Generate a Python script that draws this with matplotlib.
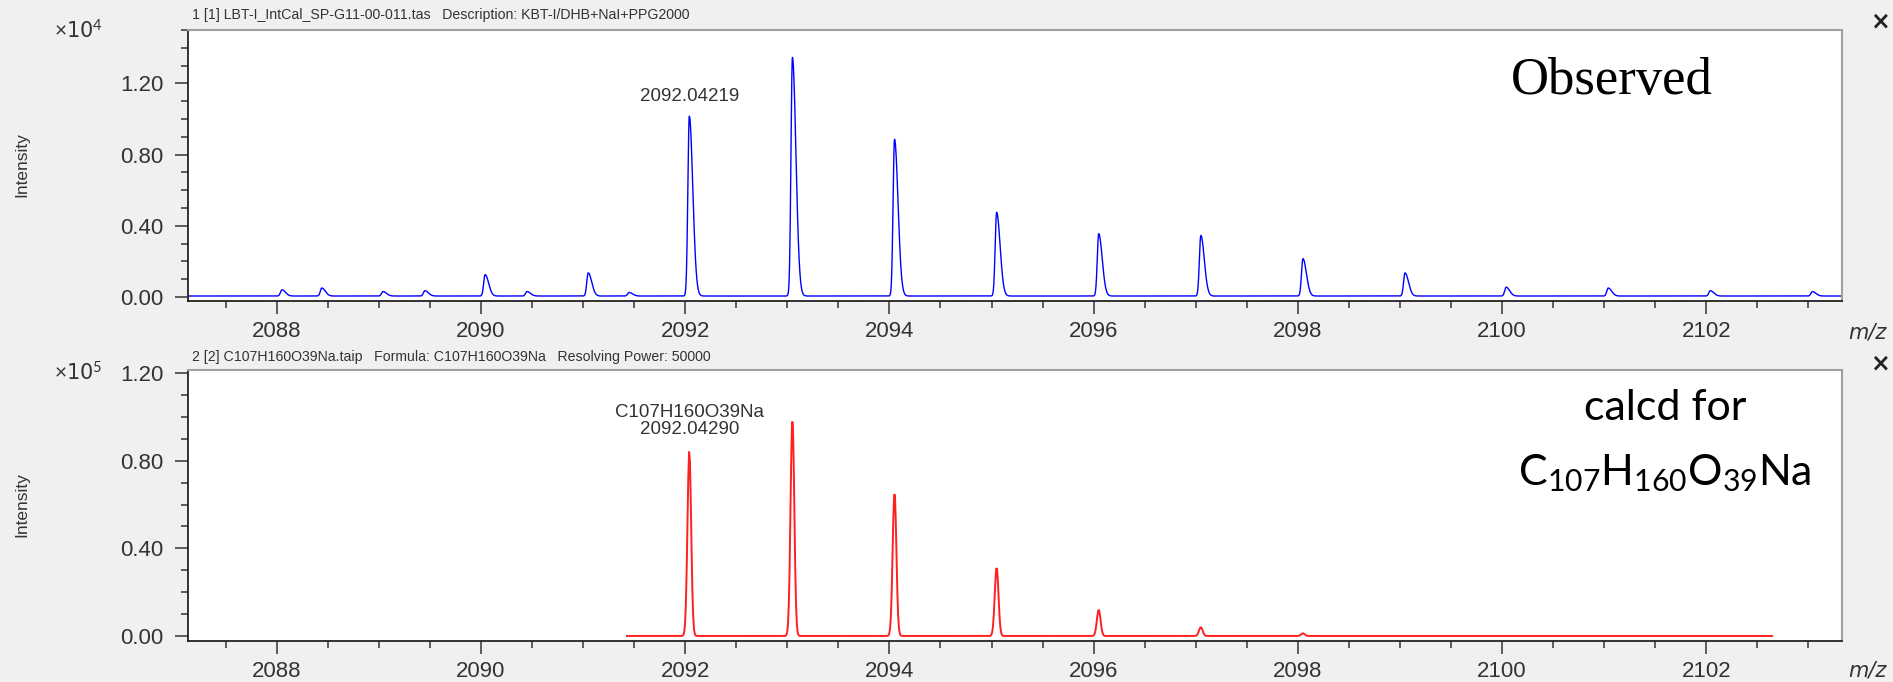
import matplotlib
matplotlib.use('Agg')
import matplotlib.pyplot as plt
from matplotlib.ticker import MultipleLocator, FormatStrFormatter
import numpy as np

# observed spectrum: peak centres (m/z) and heights (x10^4)
obs_mz = [2088.05, 2088.44, 2089.04, 2089.45, 2090.04, 2090.45, 2091.05, 2091.45,
          2092.04, 2093.05, 2094.05, 2095.05, 2096.05, 2097.05, 2098.05, 2099.05,
          2100.04, 2101.04, 2102.04, 2103.04]
obs_int = [0.035, 0.045, 0.025, 0.03, 0.12, 0.025, 0.13, 0.02,
           1.01, 1.34, 0.88, 0.47, 0.35, 0.34, 0.21, 0.13,
           0.05, 0.045, 0.03, 0.025]
obs_baseline = 0.006

# calculated isotope pattern (x10^5)
calc_mz = [2092.04, 2093.05, 2094.05, 2095.05, 2096.05, 2097.05, 2098.05]
calc_int = [0.845, 1.0, 0.66, 0.315, 0.12, 0.04, 0.012]
calc_range = [2091.43, 2102.65]

xlim = [2087.13, 2103.33]

top_header = '1 [1] LBT-I_IntCal_SP-G11-00-011.tas   Description: KBT-I/DHB+NaI+PPG2000'
bot_header = '2 [2] C107H160O39Na.taip   Formula: C107H160O39Na   Resolving Power: 50000'

narrow = ['Liberation Sans', 'DejaVu Sans']
grey_txt = '#333333'

plt.rcParams['mathtext.fontset'] = 'custom'
plt.rcParams['mathtext.rm'] = 'Lato'
plt.rcParams['mathtext.it'] = 'Lato:italic'

W, H = 1893, 682
fig = plt.figure(figsize=(W / 100, H / 100), dpi=100, facecolor='#f0f0f0')


def box(x0, y0, x1, y1):
    # pixel box -> figure fraction
    return [x0 / W, 1 - y1 / H, (x1 - x0) / W, (y1 - y0) / H]


def profile(x, mz, inten, s_left, s_right):
    y = np.zeros_like(x)
    for m, h in zip(mz, inten):
        d = x - m
        s = np.where(d < 0, s_left, s_right)
        y += h * np.exp(-0.5 * (d / s) ** 2)
    return y


def style_axes(ax, ylim):
    ax.set_xlim(xlim)
    ax.set_ylim(ylim)
    ax.set_facecolor('white')
    for side in ['top', 'right']:
        ax.spines[side].set_color('#a0a0a0')
        ax.spines[side].set_linewidth(1.5)
    for side in ['left', 'bottom']:
        ax.spines[side].set_color('#222222')
        ax.spines[side].set_linewidth(1.3)
    ax.xaxis.set_major_locator(MultipleLocator(2))
    ax.xaxis.set_minor_locator(MultipleLocator(0.5))
    ax.yaxis.set_major_locator(MultipleLocator(0.4))
    ax.yaxis.set_minor_locator(MultipleLocator(0.1))
    ax.yaxis.set_major_formatter(FormatStrFormatter('%.2f'))
    ax.tick_params(which='both', direction='out', color='#333333', width=1.1,
                   labelcolor=grey_txt, labelsize=16)
    ax.tick_params(which='major', length=9.5)
    ax.tick_params(which='minor', length=5)
    ax.tick_params(axis='x', pad=5)
    ax.tick_params(axis='y', pad=8)
    for lab in ax.get_xticklabels() + ax.get_yticklabels():
        lab.set_family(narrow)


# ---- observed
ax1 = fig.add_axes(box(188, 30, 1842, 301))
x = np.linspace(xlim[0], xlim[1], 9000)
y_obs = obs_baseline + profile(x, obs_mz, obs_int, 0.014, 0.034)
ax1.plot(x, y_obs, color='#0000ff', lw=1.0)
style_axes(ax1, [-0.022, 1.5])
ax1.text(obs_mz[8], 1.08, '2092.04219', ha='center', va='bottom',
         fontsize=13.5, color=grey_txt, family=narrow)
ax1.text(0.80, 0.81, 'Observed', transform=ax1.transAxes, fontsize=38,
         family=['Liberation Serif', 'DejaVu Serif'], ha='left', va='center')

# ---- calculated
ax2 = fig.add_axes(box(188, 370, 1842, 641))
xc = np.arange(calc_range[0], calc_range[1], 0.008)
y_calc = profile(xc, calc_mz, calc_int, 0.018, 0.018)
ax2.plot(xc, y_calc, color='#ff2020', lw=1.4)
style_axes(ax2, [-0.023, 1.214])
ax2.text(calc_mz[0], 0.905, 'C107H160O39Na\n2092.04290', ha='center', va='bottom',
         fontsize=13.5, color=grey_txt, family=narrow, linespacing=1.0)
ax2.text(0.893, 0.86, 'calcd for', transform=ax2.transAxes, fontsize=31,
         family=['Lato', 'DejaVu Sans'], ha='center', va='center')
ax2.text(0.893, 0.62, r'C$_{107}$H$_{160}$O$_{39}$Na', transform=ax2.transAxes,
         fontsize=31, family=['Lato', 'DejaVu Sans'], ha='center', va='center')

# ---- frame texts
for y_head, head, expo, y_ax in [(15, top_header, 4, 165), (357, bot_header, 5, 505)]:
    fig.text(192 / W, 1 - y_head / H, head, fontsize=10.2, family=narrow,
             color=grey_txt, va='center')
    fig.text(54 / W, 1 - (y_head + 16) / H, r'$\times$10$^{%d}$' % expo, fontsize=15,
             color=grey_txt, va='center')
    fig.text(22 / W, 1 - y_ax / H, 'Intensity', rotation=90, fontsize=12.5,
             family=narrow, color=grey_txt, ha='center', va='center')
    fig.text(1880 / W, 1 - (y_head + 7) / H, '\u00d7', fontsize=17, fontweight='bold',
             color='#222222', ha='center', va='center')

fig.text(1867 / W, 1 - 332 / H, 'm/z', fontsize=15, style='italic', color=grey_txt,
         ha='center', va='center')
fig.text(1867 / W, 1 - 670 / H, 'm/z', fontsize=15, style='italic', color=grey_txt,
         ha='center', va='center')

fig.savefig('out.png', dpi=100, facecolor=fig.get_facecolor())
